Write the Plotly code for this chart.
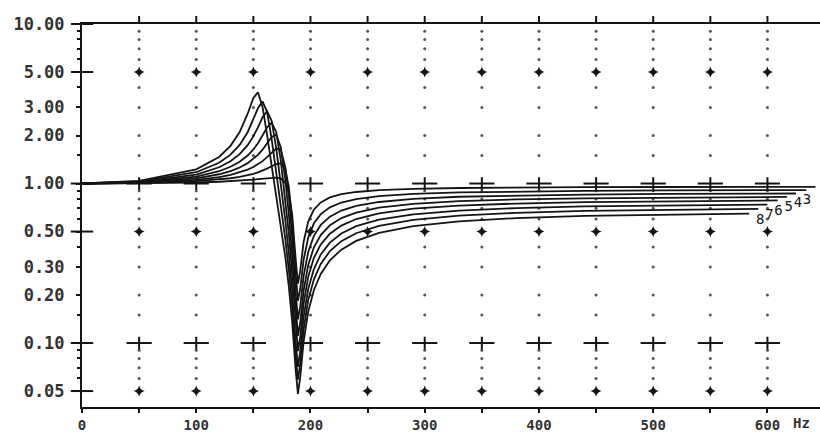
import plotly.graph_objects as go

# Frequency samples (Hz) shared by all curves; each curve also has its own end point
freq_hz = [0, 50, 100, 120, 130, 138, 145, 150, 154, 158, 162, 166, 170, 174, 178, 181,
           184, 187, 189, 191, 194, 198, 203, 209, 217, 227, 240, 260, 290, 330, 380, 440, 510]
end_hz = [642, 634, 625, 617, 609, 600, 592, 584]

# Amplitude ratio of each curve (last value belongs to that curve's end frequency)
curve_1 = [1.000, 1.003, 1.015, 1.026, 1.033, 1.041, 1.050, 1.058, 1.065, 1.073, 1.081, 1.088,
           1.090, 1.076, 1.010, 0.878, 0.634, 0.339, 0.236, 0.283, 0.430, 0.577, 0.687, 0.762,
           0.818, 0.857, 0.885, 0.908, 0.925, 0.937, 0.944, 0.948, 0.951, 0.954]
curve_2 = [1.000, 1.007, 1.034, 1.059, 1.079, 1.101, 1.127, 1.151, 1.175, 1.204, 1.240, 1.282,
           1.325, 1.339, 1.220, 0.956, 0.587, 0.276, 0.184, 0.218, 0.333, 0.458, 0.563, 0.643,
           0.709, 0.760, 0.799, 0.834, 0.861, 0.879, 0.892, 0.899, 0.905, 0.910]
curve_3 = [1.000, 1.010, 1.055, 1.098, 1.133, 1.173, 1.222, 1.269, 1.319, 1.381, 1.462, 1.561,
           1.655, 1.627, 1.263, 0.837, 0.463, 0.211, 0.141, 0.169, 0.263, 0.372, 0.470, 0.550,
           0.620, 0.677, 0.724, 0.766, 0.801, 0.826, 0.842, 0.853, 0.860, 0.866]
curve_4 = [1.000, 1.015, 1.078, 1.143, 1.197, 1.260, 1.342, 1.425, 1.513, 1.630, 1.784, 1.958,
           2.025, 1.688, 1.052, 0.644, 0.352, 0.163, 0.111, 0.134, 0.213, 0.308, 0.398, 0.475,
           0.547, 0.607, 0.657, 0.706, 0.746, 0.775, 0.795, 0.808, 0.816, 0.824]
curve_5 = [1.000, 1.019, 1.105, 1.194, 1.273, 1.369, 1.498, 1.635, 1.787, 1.993, 2.247, 2.412,
           2.105, 1.395, 0.797, 0.489, 0.273, 0.129, 0.089, 0.109, 0.177, 0.260, 0.342, 0.415,
           0.485, 0.545, 0.599, 0.650, 0.695, 0.727, 0.749, 0.764, 0.775, 0.783]
curve_6 = [1.000, 1.024, 1.138, 1.264, 1.379, 1.528, 1.740, 1.977, 2.251, 2.600, 2.843, 2.477,
           1.668, 1.011, 0.586, 0.369, 0.211, 0.102, 0.071, 0.089, 0.146, 0.218, 0.291, 0.359,
           0.426, 0.486, 0.540, 0.593, 0.641, 0.676, 0.701, 0.718, 0.729, 0.738]
curve_7 = [1.000, 1.030, 1.177, 1.349, 1.517, 1.746, 2.097, 2.511, 2.962, 3.271, 2.815, 1.903,
           1.197, 0.743, 0.447, 0.289, 0.169, 0.083, 0.059, 0.074, 0.122, 0.186, 0.251, 0.313,
           0.377, 0.435, 0.488, 0.542, 0.591, 0.629, 0.655, 0.673, 0.686, 0.694]
curve_8 = [1.000, 1.038, 1.228, 1.468, 1.723, 2.100, 2.740, 3.440, 3.730, 3.030, 2.020, 1.306,
           0.852, 0.552, 0.344, 0.227, 0.135, 0.068, 0.048, 0.061, 0.102, 0.157, 0.215, 0.271,
           0.330, 0.385, 0.437, 0.491, 0.541, 0.579, 0.607, 0.626, 0.639, 0.648]
curves = [curve_1, curve_2, curve_3, curve_4, curve_5, curve_6, curve_7, curve_8]
# Curve numbers; 1 and 2 would fall past the right edge of the frame
curve_names = ["", "", "3", "4", "5", "6", "7", "8"]

# Axis ticks
y_tick_vals = [0.05, 0.1, 0.2, 0.3, 0.5, 1, 2, 3, 5, 10]
y_tick_text = ["0.05", "0.10", "0.20", "0.30", "0.50", "1.00", "2.00", "3.00", "5.00", "10.00"]
y_minor_vals = [0.06, 0.07, 0.08, 0.09, 0.15, 0.4, 0.6, 0.7, 0.8, 0.9,
                1.5, 4, 6, 7, 8, 9]
x_tick_vals = list(range(0, 601, 50))
x_tick_text = [str(v) if v % 100 == 0 else "" for v in x_tick_vals]

# Marker grid levels
grid_x = list(range(50, 601, 50))
dot_levels = [0.06, 0.07, 0.08, 0.09, 0.15, 0.2, 0.3, 0.4, 0.6, 0.7, 0.8, 0.9,
              1.5, 2, 3, 4, 6, 7, 8, 9]
star_levels = [0.05, 0.5, 5]
bar_levels = [0.1, 1]
axis_cross_levels = [0.05, 0.1, 0.5, 1, 5, 10]

INK = "#141414"
MONO = "DejaVu Sans Mono"
PLOT_H = 433 - 24 - 26

fig = go.Figure()


def grid_points(levels):
    xs, ys = [], []
    for lv in levels:
        for gx in grid_x:
            xs.append(gx)
            ys.append(lv)
    return xs, ys


dx, dy = grid_points(dot_levels)
fig.add_trace(go.Scatter(x=dx, y=dy, mode="markers", hoverinfo="skip",
                         marker=dict(symbol="circle", size=3, color="#555")))
sx, sy = grid_points(star_levels)
fig.add_trace(go.Scatter(x=sx, y=sy, mode="markers", hoverinfo="skip",
                         marker=dict(symbol="star-diamond", size=8, color=INK)))
bx, by = grid_points(bar_levels)
fig.add_trace(go.Scatter(x=bx, y=by, mode="markers", hoverinfo="skip",
                         marker=dict(symbol="line-ew", size=18, line=dict(width=2, color=INK))))
fig.add_trace(go.Scatter(x=bx, y=by, mode="markers", hoverinfo="skip",
                         marker=dict(symbol="line-ns", size=9, line=dict(width=2, color=INK))))

# Crosses on the left axis at the decade and half-decade levels
fig.add_trace(go.Scatter(x=[0] * len(axis_cross_levels), y=axis_cross_levels, mode="markers",
                         hoverinfo="skip", cliponaxis=False,
                         marker=dict(symbol="line-ew", size=16, line=dict(width=2, color=INK))))

for vals, fend in zip(curves, end_hz):
    xs = freq_hz + [fend]
    fig.add_trace(go.Scatter(x=xs, y=vals, mode="lines", hoverinfo="skip",
                             line=dict(color=INK, width=1.8)))

# Curve numbers at the right-hand ends
fig.add_trace(go.Scatter(
    x=[f + 6 for f in end_hz], y=[c[-1] for c in curves], mode="text",
    text=curve_names, textposition="bottom right", hoverinfo="skip",
    textfont=dict(family=MONO, size=14, color=INK)))

# Short ticks standing on the top frame line
for gx in grid_x:
    fig.add_shape(type="line", xref="x", yref="paper", x0=gx, x1=gx,
                  y0=1.0, y1=1.0 + 8 / PLOT_H, line=dict(color=INK, width=2))

fig.add_annotation(text="Hz", x=630, y=0, xref="x", yref="paper", yanchor="top",
                   yshift=-6, showarrow=False,
                   font=dict(family=MONO, size=14, color="#333", weight="bold"))

fig.update_layout(
    width=820, height=433,
    margin=dict(l=82, r=0, t=24, b=26),
    paper_bgcolor="white", plot_bgcolor="white",
    showlegend=False,
    xaxis=dict(range=[0, 646], showline=True, linecolor=INK, linewidth=2, mirror=True,
               ticks="outside", ticklen=4, tickwidth=2, tickcolor=INK,
               tickvals=x_tick_vals, ticktext=x_tick_text, automargin=False,
               tickfont=dict(family=MONO, size=14, color="#333", weight="bold"),
               showgrid=False, zeroline=False),
    yaxis=dict(type="log", range=[-1.401, 1.0], showline=True, linecolor=INK, linewidth=2,
               ticks="outside", ticklen=4, tickwidth=2, tickcolor=INK, automargin=False,
               tickvals=y_tick_vals, ticktext=y_tick_text, ticklabelstandoff=8,
               tickfont=dict(family=MONO, size=17, color="#333", weight="bold"),
               minor=dict(tickvals=y_minor_vals, ticks="outside", ticklen=3,
                          tickcolor=INK, tickwidth=1.5),
               showgrid=False, zeroline=False),
)

fig.write_html("out.html")
